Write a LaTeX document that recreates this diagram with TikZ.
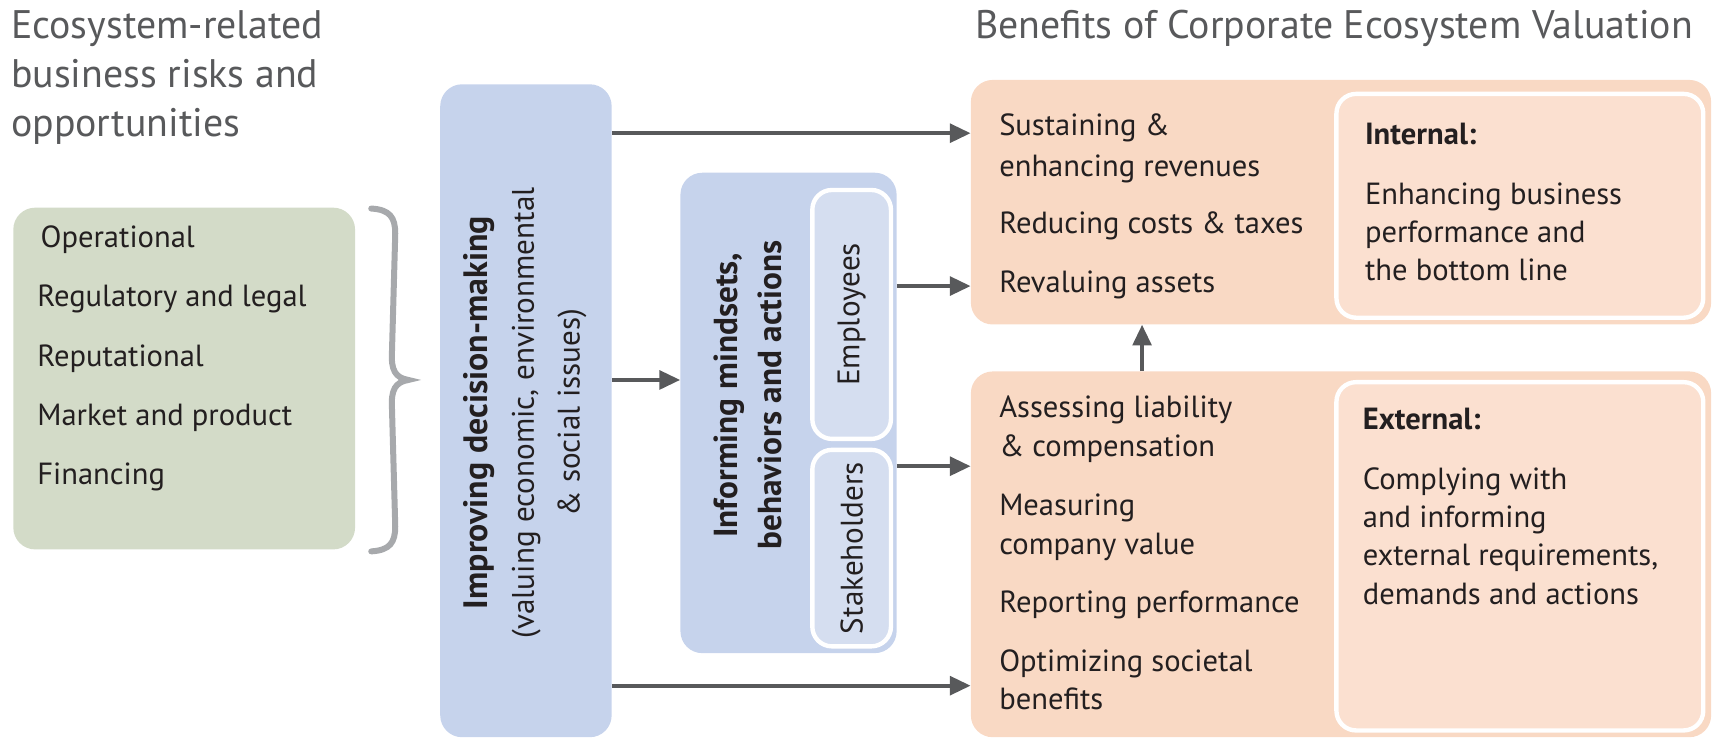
\documentclass[tikz,border=0pt]{standalone}
\usepackage{fontspec}
\setmainfont{PT Sans}
\usetikzlibrary{arrows.meta}
\definecolor{txt}{HTML}{231F20}
\definecolor{ttl}{HTML}{58595B}
\definecolor{grn}{HTML}{D3DBC8}
\definecolor{blu}{HTML}{C6D3EC}
\definecolor{bluin}{HTML}{D5DEF0}
\definecolor{org}{HTML}{F9D9C4}
\definecolor{orgin}{HTML}{FBE0D0}
\definecolor{arr}{HTML}{58595B}
\definecolor{brc}{HTML}{A7A9AC}
\begin{document}
\begin{tikzpicture}[x=1pt,y=-1pt,
  panel/.style={rounded corners=20pt, inner sep=0pt, anchor=north west},
  inbox/.style={rounded corners=18pt, inner sep=0pt, anchor=north west, draw=white, line width=4pt},
  conn/.style={draw=arr, line width=3.7pt, -{Triangle[length=19pt,width=17pt]}},
  body/.style={font=\fontsize{28}{36}\selectfont, text=txt, anchor=base west, inner sep=0pt},
  bodyb/.style={font=\fontsize{28}{36}\selectfont\bfseries, text=txt, anchor=base west, inner sep=0pt},
  ttlstyle/.style={font=\fontsize{36.5}{45}\selectfont, text=ttl, anchor=base west, inner sep=0pt},
  vtext/.style={rotate=90, align=center, text=txt, inner sep=0pt}]
\useasboundingbox (0,0) rectangle (1568,676);
% titles
\node[ttlstyle] (t1) at (10,35) {Ecosystem-related};
\node[ttlstyle] (t2) at (10,80) {business risks and};
\node[ttlstyle] (t3) at (10,125) {opportunities};
\node[ttlstyle] (t4) at (893,35) {Benefits of Corporate Ecosystem Valuation};
% green box
\node[panel, fill=grn, minimum width=313pt, minimum height=313pt] (g) at (12,190) {};
\node[body] (g1) at (37,227) {Operational};
\node[body] (g2) at (34,281) {Regulatory and legal};
\node[body] (g3) at (34,336) {Reputational};
\node[body] (g4) at (34,390) {Market and product};
\node[body] (g5) at (34,444) {Financing};
% brace
\draw[brc, line width=5.5pt, line cap=round]
  (340,191) .. controls (357,192) and (362,199) .. (362,214)
  -- (359,322) .. controls (358,339) and (362,346) .. (374,348)
  .. controls (362,350) and (358,357) .. (359,374)
  -- (362,482) .. controls (362,497) and (357,504) .. (340,505);
% blue box 1
\node[panel, fill=blu, minimum width=157pt, minimum height=598pt] (b1) at (403,77) {};
\node[vtext, font=\fontsize{28.5}{42}\selectfont] (b1t) at (481,378)
  {{\fontsize{31}{42}\selectfont\bfseries Improving decision-making}\\
   (valuing economic, environmental\\
   \& social issues)};
% blue box 2
\node[panel, fill=blu, minimum width=198pt, minimum height=440pt] (b2) at (623,158) {};
\node[vtext, font=\fontsize{30.5}{40}\selectfont\bfseries] (b2t) at (685,362) {Informing mindsets,\\behaviors and actions};
\node[inbox, fill=bluin, minimum width=72pt, minimum height=228pt] (emp) at (742,172) {};
\node[vtext, font=\fontsize{28.5}{36}\selectfont] (empt) at (emp.center) {Employees};
\node[inbox, fill=bluin, minimum width=72pt, minimum height=180pt] (stk) at (742,410) {};
\node[vtext, font=\fontsize{28.5}{36}\selectfont] (stkt) at (stk.center) {Stakeholders};
% orange boxes
\node[panel, fill=org, minimum width=678pt, minimum height=224pt] (ot) at (889,73) {};
\node[inbox, fill=orgin, minimum width=336pt, minimum height=205pt] (oti) at (1222,84) {};
\node[panel, fill=org, minimum width=678pt, minimum height=335pt] (ob) at (889,340) {};
\node[inbox, fill=orgin, minimum width=336pt, minimum height=319pt] (obi) at (1222,348) {};
% top texts
\node[body] (s1) at (915,124) {Sustaining \&};
\node[body] (s2) at (915,162) {enhancing revenues};
\node[body] (s3) at (915,214) {Reducing costs \& taxes};
\node[body] (s4) at (915,268) {Revaluing assets};
\node[bodyb] (i0) at (1250,132) {Internal:};
\node[body] (i1) at (1250,187) {Enhancing business};
\node[body] (i2) at (1250,222) {performance and};
\node[body] (i3) at (1250,257) {the bottom line};
% bottom texts
\node[body] (a1) at (915,382) {Assessing liability};
\node[body] (a2) at (915,418) {\& compensation};
\node[body] (a3) at (915,472) {Measuring};
\node[body] (a4) at (915,508) {company value};
\node[body] (a5) at (915,561) {Reporting performance};
\node[body] (a6) at (915,615) {Optimizing societal};
\node[body] (a7) at (915,650) {benefits};
\node[bodyb] (e0) at (1248,393) {External:};
\node[body] (e1) at (1248,448) {Complying with};
\node[body] (e2) at (1248,483) {and informing};
\node[body] (e3) at (1248,518) {external requirements,};
\node[body] (e4) at (1248,554) {demands and actions};
% connectors
\draw[conn] (b1.east |- 0,122) -- (ot.west |- 0,122);
\draw[conn] (b1.east |- 0,348) -- (b2.west |- 0,348);
\draw[conn] (b1.east |- 0,628) -- (ob.west |- 0,628);
\draw[conn] (b2.east |- 0,262) -- (ot.west |- 0,262);
\draw[conn] (b2.east |- 0,427) -- (ob.west |- 0,427);
\draw[conn] (ob.north -| 1046,0) -- (ot.south -| 1046,0);
\end{tikzpicture}
\end{document}
